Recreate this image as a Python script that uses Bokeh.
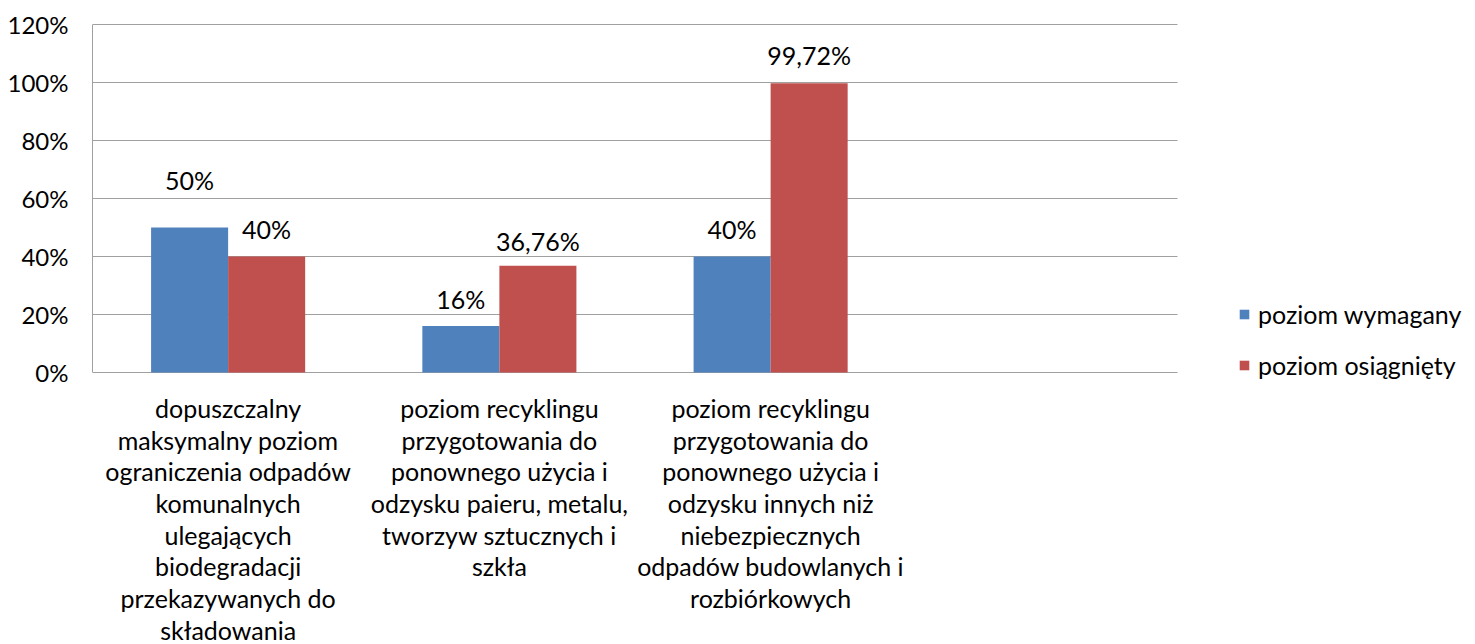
from bokeh.plotting import figure
from bokeh.models import (ColumnDataSource, Range1d, FixedTicker, PrintfTickFormatter,
                          LabelSet, Legend, LegendItem, LinearAxis)
from bokeh.core.properties import value
from bokeh.embed import file_html
from bokeh.resources import INLINE

# ---- data ----
categories = [
    ["dopuszczalny", "maksymalny poziom", "ograniczenia odpadów", "komunalnych",
     "ulegających", "biodegradacji", "przekazywanych do", "składowania"],
    ["poziom recyklingu", "przygotowania do", "ponownego użycia i",
     "odzysku paieru, metalu,", "tworzyw sztucznych i", "szkła"],
    ["poziom recyklingu", "przygotowania do", "ponownego użycia i",
     "odzysku innych niż", "niebezpiecznych", "odpadów budowlanych i",
     "rozbiórkowych"],
]
series_names = ["poziom wymagany", "poziom osiągnięty"]
required = [50, 16, 40]
achieved = [40, 36.76, 99.72]
y_ticks = [0, 20, 40, 60, 80, 100, 120]

# ---- style / layout ----
FONT = "Lato"
FS = "25px"
TICK_FS = "24px"
BLUE = "#4F81BD"
RED = "#C0504D"
GRID = "#A0A0A0"
n_slots = 4                 # the reference leaves an empty fourth slot
slot_px = 271.25            # pixel width of one category slot
left_px = 92
frame_w = 1475 - left_px
bar_w = 0.284
y_lo, y_hi = -4.5, 121      # a little room below 0 so the legend is not clipped
px_per_unit = 2.9
label_offsets = [47, 27, 27]
label_offsets2 = [27, 25, 28]
line_px = 31.7              # line pitch of the category labels
label_box_px = 33           # height bokeh reserves for one label line

def fmt(v):
    if float(v).is_integer():
        return "%d%%" % v
    return ("%.2f" % v).replace(".", ",") + "%"

centers = [i + 0.5 for i in range(len(required))]
src_a = ColumnDataSource(dict(x=[c - bar_w / 2 for c in centers], top=required,
                              lbl=[fmt(v) for v in required], off=label_offsets))
src_b = ColumnDataSource(dict(x=[c + bar_w / 2 for c in centers], top=achieved,
                              lbl=[fmt(v) for v in achieved], off=label_offsets2))

p = figure(frame_width=frame_w, frame_height=round((y_hi - y_lo) * px_per_unit),
           output_backend="svg", toolbar_location=None,
           x_range=Range1d(0, frame_w / slot_px), y_range=Range1d(y_lo, y_hi),
           min_border_left=left_px, min_border_right=0,
           min_border_top=round(24 - (y_hi - 120) * px_per_unit), min_border_bottom=0)
p.outline_line_color = None
p.background_fill_color = "white"

r1 = p.vbar(x="x", top="top", bottom=0, width=bar_w, source=src_a,
            fill_color=BLUE, line_color=None)
r2 = p.vbar(x="x", top="top", bottom=0, width=bar_w, source=src_b,
            fill_color=RED, line_color=None)

for src in (src_a, src_b):
    p.add_layout(LabelSet(x="x", y="top", text="lbl", y_offset="off", source=src,
                          text_align="center", text_baseline="middle",
                          text_font=value(FONT), text_font_size=value(FS),
                          text_color="#000000"))

# y axis
p.yaxis.ticker = FixedTicker(ticks=y_ticks)
p.yaxis.formatter = PrintfTickFormatter(format="%d%%")
p.yaxis.bounds = (0, 120)
p.yaxis.axis_line_color = GRID
p.yaxis.major_tick_line_color = None
p.yaxis.minor_tick_line_color = None
p.yaxis.major_tick_out = 0
p.yaxis.major_tick_in = 0
p.yaxis.major_label_standoff = 24
p.yaxis.major_label_text_font = FONT
p.yaxis.major_label_text_font_size = TICK_FS
p.yaxis.major_label_text_color = "#000000"

p.xgrid.grid_line_color = None
p.ygrid.ticker = FixedTicker(ticks=y_ticks)
p.ygrid.grid_line_color = GRID
p.ygrid.cross_bounds = (0, n_slots)

# category labels: one stacked axis per text line
n_lines = max(len(c) for c in categories)
main_x = p.xaxis[0]
for i in range(n_lines):
    ax = main_x if i == 0 else LinearAxis()
    ax.ticker = FixedTicker(ticks=centers)
    ax.major_label_overrides = {c: (lines[i] if i < len(lines) else "")
                                for c, lines in zip(centers, categories)}
    ax.axis_line_color = None
    ax.major_tick_line_color = None
    ax.minor_tick_line_color = None
    ax.major_tick_out = 0
    ax.major_tick_in = 0
    if i == 0:
        ax.major_label_standoff = 7
    else:
        step = round(line_px * i) - round(line_px * (i - 1))
        ax.major_label_standoff = step - label_box_px
    ax.major_label_text_font = FONT
    ax.major_label_text_font_size = FS
    ax.major_label_text_color = "#000000"
    if i > 0:
        p.add_layout(ax, "below")

legend = Legend(items=[LegendItem(label=series_names[0], renderers=[r1]),
                       LegendItem(label=series_names[1], renderers=[r2])],
                location=(1146, 5), orientation="vertical",
                glyph_width=12, glyph_height=12, label_standoff=8, spacing=21,
                padding=0, margin=0, border_line_color=None, background_fill_alpha=0,
                label_text_font=FONT, label_text_font_size=FS, label_text_color="#000000")
p.add_layout(legend)

open("out.html", "w").write(file_html(p, INLINE))
